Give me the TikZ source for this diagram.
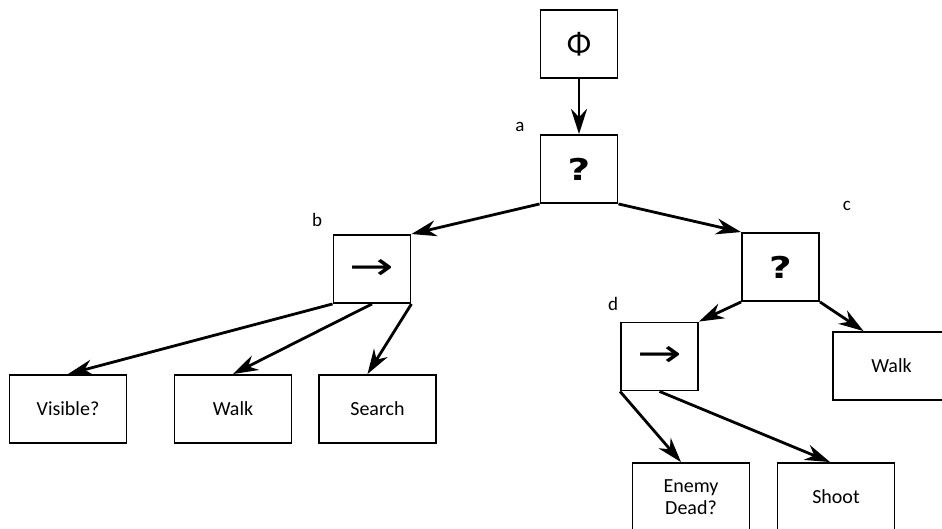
\documentclass[tikz,border=0pt]{standalone}
\usepackage{fontspec}
\usepackage{graphicx}
\setmainfont{Carlito}
\newfontfamily\arrowfont{DejaVu Sans}
\usetikzlibrary{arrows.meta}
\begin{document}
\begin{tikzpicture}[x=1pt,y=-1pt,
  box/.style={draw,line width=1.9pt,minimum width=77pt,minimum height=68pt,inner sep=0pt},
  leaf/.style={box,minimum width=117pt,font=\fontsize{20}{22}\selectfont,align=center},
  tag/.style={font=\fontsize{19}{19}\selectfont},
  link/.style={line width=2.8pt,-{Stealth[length=25pt,width=16pt,inset=8pt]}},
  sel/.style={box,font=\fontsize{30}{30}\arrowfont\bfseries},
  seq/.style={box,font=\fontsize{38}{38}\arrowfont}]
  \useasboundingbox (0,0) rectangle (942,529);
  \clip (0,0) rectangle (942,529);
  % root and selectors
  \node[box,font=\fontsize{32}{32}\selectfont] (root) at (579,44) {Φ};
  \node[sel] (a) at (579,169) {\scalebox{1.3}[1]{?}};
  \node[seq] (b) at (372,269) {\scalebox{1.4}[1]{→}};
  \node[sel] (c) at (780.5,267) {\scalebox{1.3}[1]{?}};
  \node[seq] (d) at (659.5,356.5) {\scalebox{1.4}[1]{→}};
  % leaves
  \node[leaf] (visible) at (68,409) {Visible?};
  \node[leaf] (walk) at (233,409) {Walk};
  \node[leaf] (search) at (377.5,409) {Search};
  \node[leaf] (walkc) at (891.5,366) {Walk};
  \node[leaf] (dead) at (691,497) {Enemy\\Dead?};
  \node[leaf] (shoot) at (836,497) {Shoot};
  % labels
  \node[tag] (la) at (520,127) {a};
  \node[tag] (lb) at (317,220) {b};
  \node[tag] (lc) at (847,206) {c};
  \node[tag] (ld) at (613,304) {d};
  % arrows
  \draw[link] (root.south) -- (a.north);
  \draw[link] (a.south west) -- (b.north east);
  \draw[link] (a.south east) -- (c.north west);
  \draw[link] (b.south west) -- (visible.north);
  \draw[link] (b.south) -- (walk.north);
  \draw[link] (b.south east) -- ([xshift=-10pt]search.north);
  \draw[link] (c.south west) -- (d.north east);
  \draw[link] (c.south east) -- ([xshift=-28pt]walkc.north);
  \draw[link] (d.south west) -- ([xshift=-10pt]dead.north);
  \draw[link] (d.south) -- ([xshift=-6pt]shoot.north);
\end{tikzpicture}
\end{document}
